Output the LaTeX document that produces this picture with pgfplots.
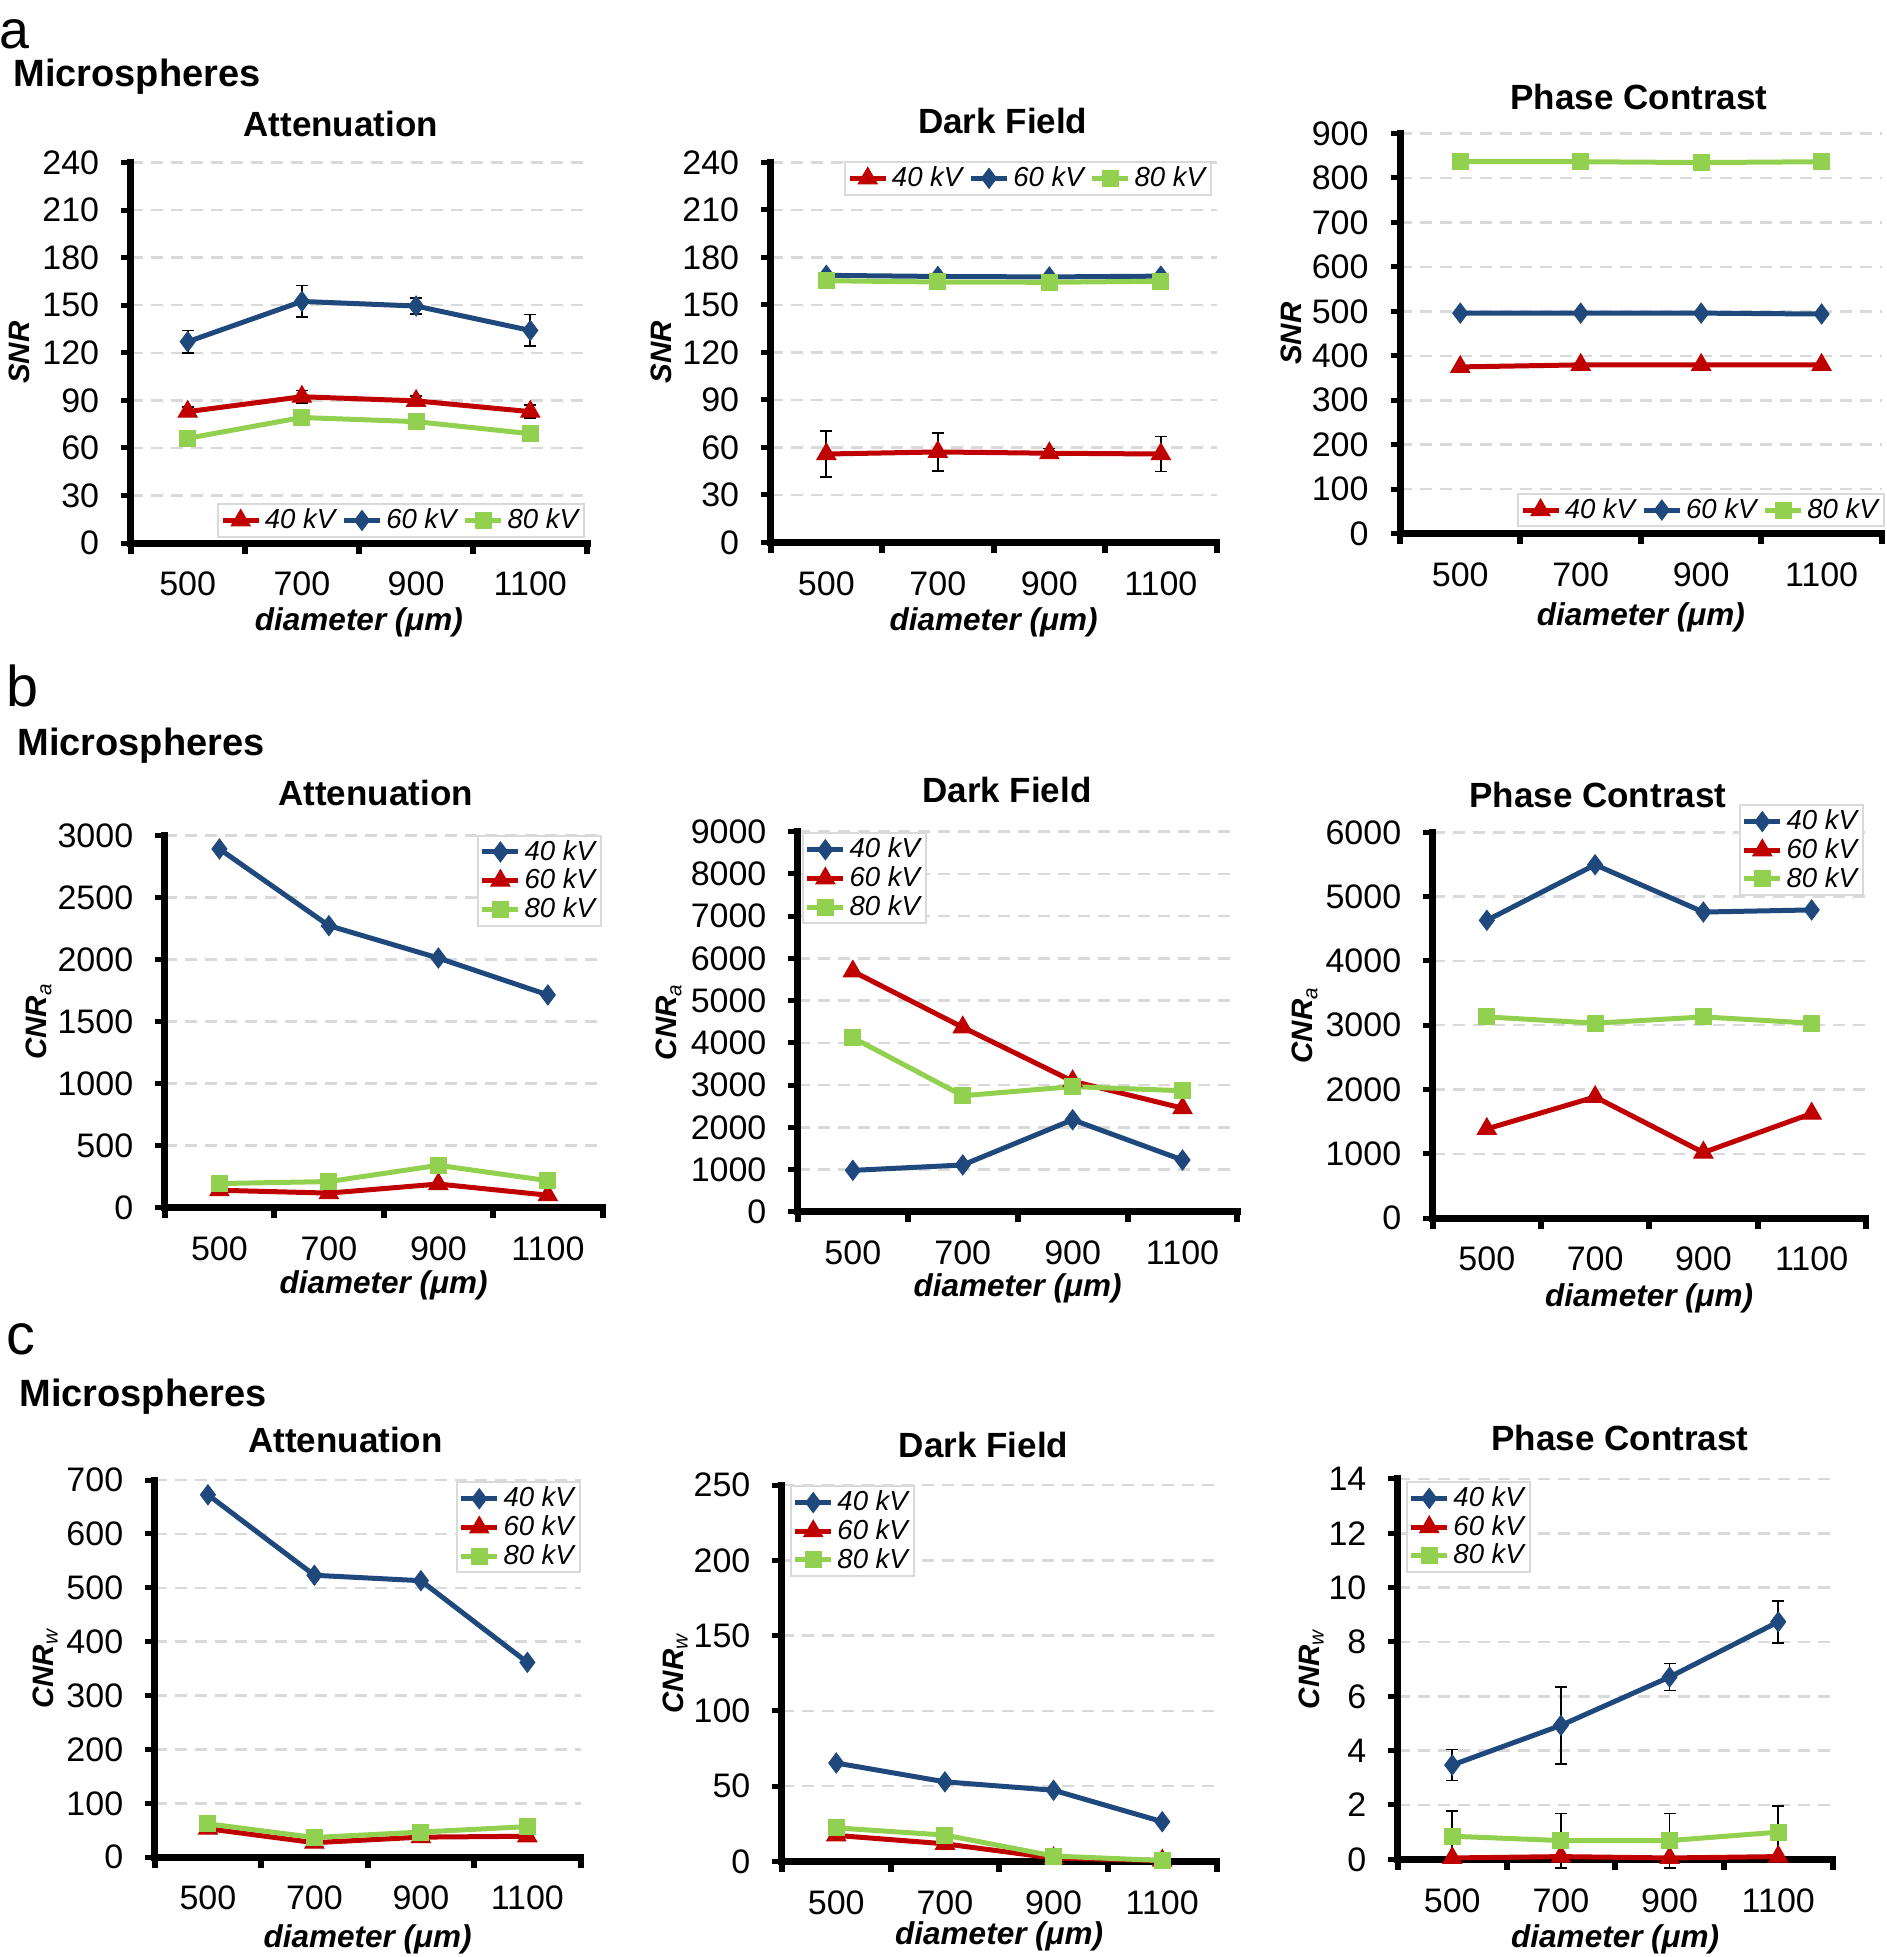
\documentclass[border=0pt]{standalone}
\usepackage{fontspec}
\setmainfont{Liberation Sans}
\usepackage{pgfplots}
\pgfplotsset{compat=1.18}

\definecolor{cblue}{HTML}{1F497D}
\definecolor{cred}{HTML}{C00000}
\definecolor{cgreen}{HTML}{92D050}
\definecolor{cgrid}{HTML}{D9D9D9}

\pgfplotsset{
  panel/.style={
    scale only axis, anchor=south west, clip=false,
    xmin=-0.5, xmax=3.5, ymin=0,
    axis x line*=bottom, axis y line*=left,
    axis line style={black, line width=2.8pt, line cap=rect, -},
    xtick={0,1,2,3}, xticklabels={500,700,900,1100},
    minor xtick={-0.5,0.5,1.5,2.5,3.5},
    tick align=outside,
    major tick length=3.8pt, minor tick length=4.2pt,
    major x tick style={draw=none},
    major y tick style={black, line width=2pt},
    minor x tick style={black, line width=2.4pt},
    ymajorgrids,
    major grid style={cgrid, line width=1pt, dash pattern=on 4.8pt off 3.2pt},
    tick label style={font=\fontsize{13.6}{16}\selectfont, inner sep=0pt},
    xticklabel style={anchor=center, yshift=-12.6pt},
    yticklabel style={anchor=east, xshift=-8.6pt},
    /pgf/number format/assume math mode=true,
    /pgf/number format/1000 sep={},
    xlabel={diameter (μm)},
    every axis x label/.style={anchor=center, font=\fontsize{12.6}{15}\selectfont\bfseries\itshape},
    every axis y label/.style={rotate=90, anchor=center, font=\fontsize{11.8}{14}\selectfont\bfseries\itshape},
    legend cell align=left,
    legend style={draw=cgrid, line width=0.8pt, fill=white,
      font=\fontsize{11}{13}\selectfont\itshape, inner sep=0.8pt,
      nodes={inner xsep=1.5pt, inner ysep=1pt}},
    legend image code/.code={\draw[mark repeat=2,mark phase=2]
      plot coordinates {(0pt,0pt) (7.2pt,0pt) (14.4pt,0pt)};},
  },
  sblue/.style={cblue, line width=2pt, mark=diamond*, mark size=4pt,
    mark options={solid, fill=cblue, line width=0.4pt}},
  sred/.style={cred, line width=2pt, mark=triangle*, mark size=4.4pt,
    mark options={solid, fill=cred, line width=0.4pt}},
  sgreen/.style={cgreen, line width=2pt, mark=square*, mark size=3.2pt,
    mark options={solid, fill=cgreen, line width=0.4pt}},
  errb/.style={
    /pgfplots/error bars/y dir=both,
    /pgfplots/error bars/y explicit,
    /pgfplots/error bars/error bar style={black, line width=0.7pt, solid},
    /pgfplots/error bars/error mark options={rotate=90, black, mark size=2.4pt, line width=0.7pt}},
}

\begin{document}
\begin{tikzpicture}
\useasboundingbox (0,0) rectangle (754.8pt,-782.8pt);

% panel letters and row headings
\node[anchor=base west, inner sep=0pt, font=\fontsize{21.5}{24}\selectfont] at (-0.4pt,-19.5pt) {a};
\node[anchor=base west, inner sep=0pt, font=\fontsize{23}{25}\selectfont] at (2.4pt,-282.4pt) {b};
\node[anchor=base west, inner sep=0pt, font=\fontsize{23}{25}\selectfont] at (2.4pt,-541.8pt) {c};
\node[anchor=base west, inner sep=0pt, font=\fontsize{15.2}{17}\selectfont\bfseries] at (5.2pt,-34.48pt) {Microspheres};
\node[anchor=base west, inner sep=0pt, font=\fontsize{15.2}{17}\selectfont\bfseries] at (6.8pt,-302.28pt) {Microspheres};
\node[anchor=base west, inner sep=0pt, font=\fontsize{15.2}{17}\selectfont\bfseries] at (7.6pt,-562.72pt) {Microspheres};

% panel titles
\begin{scope}[every node/.style={font=\fontsize{14}{16}\selectfont\bfseries, inner sep=0pt}]
\node at (136.28pt,-49.76pt) {Attenuation};
\node at (401.12pt,-48.24pt) {Dark Field};
\node at (655.6pt,-38.96pt) {Phase Contrast};
\node at (150.24pt,-317.2pt) {Attenuation};
\node at (402.76pt,-316.04pt) {Dark Field};
\node at (639.16pt,-318.04pt) {Phase Contrast};
\node at (138.2pt,-576.12pt) {Attenuation};
\node at (393.44pt,-577.8pt) {Dark Field};
\node at (647.96pt,-575.28pt) {Phase Contrast};
\end{scope}

% ---------- row a: SNR ----------
\begin{axis}[panel, at={(52.24pt,-217.24pt)}, width=182.72pt, height=152.24pt,
  ymax=240, ytick distance=30, ylabel={SNR},
  ylabel style={at={(axis description cs:-0.2437,0.5)}},
  xlabel style={at={(axis description cs:0.5,-0.2076)}},
  legend columns=3,
  legend style={at={(0.994,0.014)}, anchor=south east,
    /tikz/every even column/.append style={column sep=1pt}}]
\addplot[sred, errb] coordinates {(0,82.9) +- (0,3) (1,92.3) +- (0,4) (2,89.7) +- (0,3) (3,82.9) +- (0,4)};
\addlegendentry{40 kV}
\addplot[sblue, errb] coordinates {(0,127) +- (0,7) (1,152.4) +- (0,10) (2,149.5) +- (0,5) (3,134.1) +- (0,10)};
\addlegendentry{60 kV}
\addplot[sgreen, errb] coordinates {(0,66.1) +- (0,4) (1,79.2) +- (0,5) (2,76.6) +- (0,3) (3,69) +- (0,3)};
\addlegendentry{80 kV}
\end{axis}

\begin{axis}[panel, at={(308.24pt,-216.92pt)}, width=178.4pt, height=151.92pt,
  ymax=240, ytick distance=30, ylabel={SNR},
  ylabel style={at={(axis description cs:-0.2451,0.5)}},
  xlabel style={at={(axis description cs:0.5,-0.2096)}},
  legend columns=3,
  legend style={at={(0.989,1.004)}, anchor=north east,
    /tikz/every even column/.append style={column sep=1pt}}]
\addplot[sred, errb] coordinates {(0,55.8) +- (0,14.6) (1,57.1) +- (0,12) (2,56.3) +- (0,3) (3,55.8) +- (0,11)};
\addlegendentry{40 kV}
\addplot[sblue] coordinates {(0,168.7) (1,168) (2,167.7) (3,168.2)};
\addlegendentry{60 kV}
\addplot[sgreen] coordinates {(0,165.3) (1,164.5) (2,164.3) (3,165)};
\addlegendentry{80 kV}
\end{axis}

\begin{axis}[panel, at={(560pt,-213.44pt)}, width=192.72pt, height=160.04pt,
  ymax=900, ytick distance=100, ylabel={SNR},
  ylabel style={at={(axis description cs:-0.2258,0.5)}},
  xlabel style={at={(axis description cs:0.5,-0.2099)}},
  legend columns=3,
  legend style={at={(1.0056,0.0155)}, anchor=south east,
    /tikz/every even column/.append style={column sep=1pt}}]
\addplot[sred] coordinates {(0,375) (1,379.6) (2,379.6) (3,379.6)};
\addlegendentry{40 kV}
\addplot[sblue] coordinates {(0,496) (1,496) (2,496) (3,494)};
\addlegendentry{60 kV}
\addplot[sgreen] coordinates {(0,836.6) (1,836.6) (2,834.7) (3,836.6)};
\addlegendentry{80 kV}
\end{axis}

% ---------- row b: CNR_a ----------
\begin{axis}[panel, at={(65.88pt,-483.04pt)}, width=175.16pt, height=148.92pt,
  ymax=3000, ytick distance=500, ylabel={CNR\textsubscript{\mdseries a}},
  ylabel style={at={(axis description cs:-0.2870,0.5)}},
  xlabel style={at={(axis description cs:0.5,-0.2095)}},
  legend style={at={(0.998,1.002)}, anchor=north east}]
\addplot[sblue] coordinates {(0,2890) (1,2272) (2,2011) (3,1714)};
\addlegendentry{40 kV}
\addplot[sred] coordinates {(0,140) (1,117) (2,190) (3,100)};
\addlegendentry{60 kV}
\addplot[sgreen] coordinates {(0,194) (1,210) (2,341) (3,217)};
\addlegendentry{80 kV}
\end{axis}

\begin{axis}[panel, at={(319.16pt,-484.72pt)}, width=175.84pt, height=152.08pt,
  ymax=9000, ytick distance=1000, ylabel={CNR\textsubscript{\mdseries a}},
  ylabel style={at={(axis description cs:-0.2932,0.5)}},
  xlabel style={at={(axis description cs:0.5,-0.2025)}},
  legend style={at={(0.009,0.998)}, anchor=north west}]
\addplot[sblue] coordinates {(0,981) (1,1109) (2,2179) (3,1227)};
\addlegendentry{40 kV}
\addplot[sred] coordinates {(0,5693) (1,4368) (2,3092) (3,2454)};
\addlegendentry{60 kV}
\addplot[sgreen] coordinates {(0,4122) (1,2748) (2,2964) (3,2866)};
\addlegendentry{80 kV}
\end{axis}

\begin{axis}[panel, at={(573.08pt,-487.2pt)}, width=173.24pt, height=154.24pt,
  ymax=6000, ytick distance=1000, ylabel={CNR\textsubscript{\mdseries a}},
  ylabel style={at={(axis description cs:-0.2949,0.5)}},
  xlabel style={at={(axis description cs:0.5,-0.2075)}},
  legend style={at={(0.995,1.073)}, anchor=north east}]
\addplot[sblue] coordinates {(0,4632) (1,5497) (2,4761) (3,4794)};
\addlegendentry{40 kV}
\addplot[sred] coordinates {(0,1387) (1,1884) (2,1019) (3,1626)};
\addlegendentry{60 kV}
\addplot[sgreen] coordinates {(0,3129) (1,3032) (2,3129) (3,3032)};
\addlegendentry{80 kV}
\end{axis}

% ---------- row c: CNR_w ----------
\begin{axis}[panel, at={(61.88pt,-742.88pt)}, width=170.36pt, height=150.84pt,
  ymax=700, ytick distance=100, ylabel={CNR\textsubscript{\mdseries w}},
  ylabel style={at={(axis description cs:-0.2576,0.5)}},
  xlabel style={at={(axis description cs:0.5,-0.2174)}},
  legend style={at={(1.0,0.9966)}, anchor=north east}]
\addplot[sblue] coordinates {(0,672.8) (1,523.4) (2,513.3) (3,361.7)};
\addlegendentry{40 kV}
\addplot[sred] coordinates {(0,52.9) (1,27) (2,37.3) (3,38.9)};
\addlegendentry{60 kV}
\addplot[sgreen] coordinates {(0,62) (1,36.6) (2,46.7) (3,56.8)};
\addlegendentry{80 kV}
\end{axis}

\begin{axis}[panel, at={(312.76pt,-744.56pt)}, width=173.88pt, height=150.48pt,
  ymax=250, ytick distance=50, ylabel={CNR\textsubscript{\mdseries w}},
  ylabel style={at={(axis description cs:-0.2459,0.5)}},
  xlabel style={at={(axis description cs:0.5,-0.1994)}},
  legend style={at={(0.018,1.0)}, anchor=north west}]
\addplot[sblue] coordinates {(0,65.4) (1,52.9) (2,47.3) (3,26.4)};
\addlegendentry{40 kV}
\addplot[sred] coordinates {(0,17.3) (1,11.7) (2,2.2) (3,0.6)};
\addlegendentry{60 kV}
\addplot[sgreen] coordinates {(0,22.3) (1,17.5) (2,3.6) (3,0.6)};
\addlegendentry{80 kV}
\end{axis}

\begin{axis}[panel, at={(559.16pt,-743.72pt)}, width=173.88pt, height=152.16pt,
  ymax=14, ytick distance=2, ylabel={CNR\textsubscript{\mdseries w}},
  ylabel style={at={(axis description cs:-0.1999,0.5)}},
  xlabel style={at={(axis description cs:0.5,-0.2093)}},
  legend style={at={(0.018,0.9945)}, anchor=north west}]
\addplot[sblue, errb] coordinates {(0,3.47) +- (0,0.57) (1,4.93) +- (0,1.41) (2,6.71) +- (0,0.5) (3,8.74) +- (0,0.77)};
\addlegendentry{40 kV}
\addplot[sred] coordinates {(0,0.05) (1,0.1) (2,0.05) (3,0.1)};
\addlegendentry{60 kV}
\addplot[sgreen, errb] coordinates {(0,0.85) +- (0,0.92) (1,0.69) +- (0,1.0) (2,0.69) +- (0,1.0) (3,1.0) +- (0,0.97)};
\addlegendentry{80 kV}
\end{axis}
\end{tikzpicture}
\end{document}
